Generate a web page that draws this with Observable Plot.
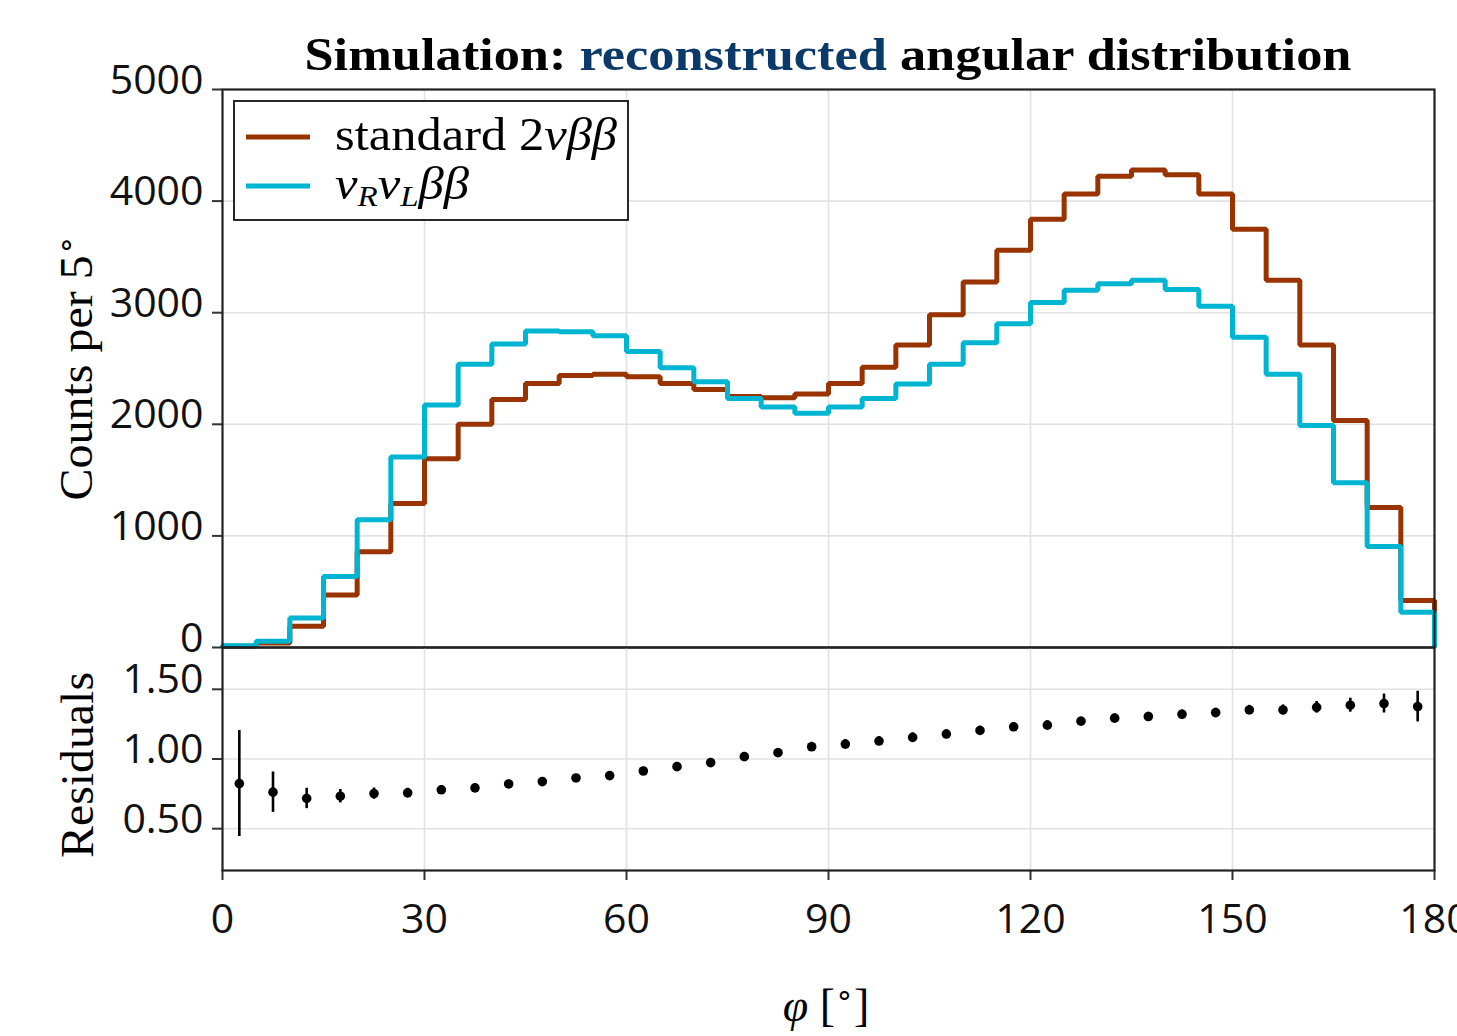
<!DOCTYPE html>
<html>
<head>
<meta charset="utf-8">
<script src="https://cdn.jsdelivr.net/npm/d3@7"></script>
<script src="https://cdn.jsdelivr.net/npm/@observablehq/plot@0.6"></script>
<style>
  html, body { margin: 0; padding: 0; background: #fff; overflow: hidden; }
  #wrap { position: relative; width: 1457px; height: 1036px; }
  #top, #bot { position: absolute; left: 0; }
  #top { top: 0; }
  #bot { top: 647px; }
  #overlay { position: absolute; left: 0; top: 0; pointer-events: none; }
</style>
</head>
<body>
<div id="wrap">
  <div id="top"></div>
  <div id="bot"></div>
  <svg id="overlay" width="1457" height="1036" xmlns="http://www.w3.org/2000/svg">
    <text x="828" y="70" text-anchor="middle" font-family="Liberation Serif" font-weight="bold" font-size="47" fill="#000" textLength="1047" lengthAdjust="spacingAndGlyphs">Simulation: <tspan fill="#0b3a6a">reconstructed</tspan> angular distribution</text>
    <text transform="translate(92,368) rotate(-90)" text-anchor="middle" font-family="Liberation Serif" font-size="46" fill="#000" textLength="265" lengthAdjust="spacingAndGlyphs">Counts per 5<tspan baseline-shift="super" font-size="30">∘</tspan></text>
    <text transform="translate(93,765) rotate(-90)" text-anchor="middle" font-family="Liberation Serif" font-size="46" fill="#000" textLength="186" lengthAdjust="spacingAndGlyphs">Residuals</text>
    <text x="826" y="1021" text-anchor="middle" font-family="Liberation Serif" font-size="46" fill="#000"><tspan font-style="italic">φ</tspan> [<tspan baseline-shift="super" font-size="30">∘</tspan>]</text>
    <g id="legend">
      <rect x="234" y="101" width="394" height="119" fill="#fff" stroke="#111" stroke-width="1.8"></rect>
      <line id="lg0" x1="246" x2="310" y1="137" y2="137" stroke-width="5"></line>
      <line id="lg1" x1="246" x2="310" y1="186" y2="186" stroke-width="5"></line>
      <text x="335" y="150" font-family="Liberation Serif" font-size="46" fill="#000" textLength="282" lengthAdjust="spacingAndGlyphs">standard 2<tspan font-style="italic">νββ</tspan></text>
      <text x="335" y="199" font-family="Liberation Serif" font-size="46" fill="#000" font-style="italic" textLength="134" lengthAdjust="spacingAndGlyphs">ν<tspan font-size="30" dy="7">R</tspan><tspan dy="-7">ν</tspan><tspan font-size="30" dy="7">L</tspan><tspan dy="-7">ββ</tspan></text>
    </g>
  </svg>
</div>
<script>
// ---- data ----
const seriesNames = ["standard 2νββ", "νRνLββ"];
const seriesColors = ["#993300", "#00b5d1"];
const phiLeft = [0, 5, 10, 15, 20, 25, 30, 35, 40, 45, 50, 55, 60, 65, 70, 75, 80, 85,
                 90, 95, 100, 105, 110, 115, 120, 125, 130, 135, 140, 145, 150, 155, 160, 165, 170, 175];
const standardCounts = [12, 40, 190, 470, 858, 1290, 1692, 2000, 2222, 2365, 2438, 2448,
                        2425, 2365, 2312, 2249, 2239, 2272, 2365, 2511, 2710, 2982, 3274, 3559,
                        3837, 4063, 4222, 4279, 4235, 4063, 3748, 3290, 2710, 2033, 1254, 421];
const rlCounts = [15, 55, 265, 637, 1144, 1708, 2172, 2537, 2720, 2836, 2829, 2793,
                  2653, 2507, 2381, 2232, 2156, 2100, 2156, 2232, 2361, 2537, 2730, 2902,
                  3091, 3201, 3260, 3290, 3207, 3058, 2779, 2448, 1990, 1476, 905, 315];
const phiCenter = [2.5, 7.5, 12.5, 17.5, 22.5, 27.5, 32.5, 37.5, 42.5, 47.5, 52.5, 57.5,
                   62.5, 67.5, 72.5, 77.5, 82.5, 87.5, 92.5, 97.5, 102.5, 107.5, 112.5, 117.5,
                   122.5, 127.5, 132.5, 137.5, 142.5, 147.5, 152.5, 157.5, 162.5, 167.5, 172.5, 177.5];
const residual = [0.824, 0.762, 0.717, 0.733, 0.752, 0.757, 0.779, 0.793, 0.821, 0.838, 0.864, 0.881,
                  0.914, 0.945, 0.974, 1.017, 1.045, 1.088, 1.107, 1.129, 1.155, 1.179, 1.205, 1.231,
                  1.243, 1.271, 1.293, 1.305, 1.321, 1.333, 1.352, 1.352, 1.371, 1.386, 1.398, 1.376];
const residualErr = [0.38, 0.145, 0.073, 0.048, 0.04, 0.033, 0.03, 0.028, 0.027, 0.026, 0.026, 0.026,
                     0.027, 0.028, 0.029, 0.03, 0.031, 0.032, 0.032, 0.032, 0.032, 0.031, 0.031, 0.031,
                     0.031, 0.03, 0.03, 0.03, 0.03, 0.031, 0.033, 0.036, 0.042, 0.05, 0.068, 0.11];
const xTicks = [0, 30, 60, 90, 120, 150, 180];
const yTicksTop = [0, 1000, 2000, 3000, 4000, 5000];
const yTicksRes = [0.5, 1.0, 1.5];

// ---- build tables ----
function stepPoints(vals, name) {
  const pts = [{phi: 0, v: 0, s: name}];
  phiLeft.forEach((p, i) => pts.push({phi: p, v: vals[i], s: name}));
  pts.push({phi: 180, v: vals[vals.length - 1], s: name});
  pts.push({phi: 180, v: 0, s: name});
  return pts;
}
const stdSteps = stepPoints(standardCounts, seriesNames[0]);
const rlSteps = stepPoints(rlCounts, seriesNames[1]);
const resData = phiCenter.map((p, i) => ({phi: p, r: residual[i], lo: residual[i] - residualErr[i], hi: residual[i] + residualErr[i]}));

document.getElementById("lg0").setAttribute("stroke", seriesColors[0]);
document.getElementById("lg1").setAttribute("stroke", seriesColors[1]);

const gridStyle = {stroke: "#e2e2e2", strokeOpacity: 1, strokeWidth: 1.6};
const tickFont = {fontSize: 41, fontFamily: "Open Sans", fill: "#111"};
const W = 1457, ML = 222, MR = 23;

const topPlot = Plot.plot({
  width: W, height: 648,
  marginLeft: ML, marginRight: MR, marginTop: 89, marginBottom: 1,
  style: {background: "transparent", overflow: "visible", fontFamily: "Open Sans", color: "#111"},
  x: {domain: [0, 180], label: null, axis: null},
  y: {domain: [0, 5000], label: null},
  marks: [
    Plot.gridX(xTicks.slice(1, -1), gridStyle),
    Plot.gridY(yTicksTop.slice(1, -1), gridStyle),
    Plot.line(stdSteps, {x: "phi", y: "v", stroke: seriesColors[0], strokeWidth: 5, curve: "step-after", strokeLinejoin: "miter", strokeLinecap: "butt"}),
    Plot.line(rlSteps, {x: "phi", y: "v", stroke: seriesColors[1], strokeWidth: 5, curve: "step-after", strokeLinejoin: "miter", strokeLinecap: "butt"}),
    Plot.axisY({ticks: yTicksTop, tickSize: 10, tickFormat: () => "", strokeWidth: 2, stroke: "#333", label: null}),
    Plot.axisY({ticks: yTicksTop, tickSize: 0, tickPadding: 19, dy: -9, tickFormat: d => String(d), ...tickFont, label: null}),
    Plot.frame({stroke: "#222", strokeWidth: 2.2})
  ]
});
document.getElementById("top").appendChild(topPlot);

const botPlot = Plot.plot({
  width: W, height: 389,
  marginLeft: ML, marginRight: MR, marginTop: 0, marginBottom: 166,
  style: {background: "transparent", overflow: "visible", fontFamily: "Open Sans", color: "#111"},
  x: {domain: [0, 180], label: null},
  y: {domain: [0.2, 1.8], label: null},
  marks: [
    Plot.gridX(xTicks.slice(1, -1), gridStyle),
    Plot.gridY(yTicksRes, gridStyle),
    Plot.ruleX(resData, {x: "phi", y1: "lo", y2: "hi", stroke: "#000", strokeWidth: 2.6}),
    Plot.dot(resData, {x: "phi", y: "r", r: 4.8, fill: "#000", stroke: "none"}),
    Plot.axisY({ticks: yTicksRes, tickSize: 10, tickFormat: () => "", strokeWidth: 2, stroke: "#333", label: null}),
    Plot.axisY({ticks: yTicksRes, tickSize: 0, tickPadding: 19, dy: -9, tickFormat: d3.format(".2f"), ...tickFont, label: null}),
    Plot.axisX({ticks: xTicks, tickSize: 10, tickPadding: 23, strokeWidth: 2, stroke: "#333", tickFormat: d => String(d), ...tickFont, label: null}),
    Plot.frame({stroke: "#222", strokeWidth: 2.2})
  ]
});
document.getElementById("bot").appendChild(botPlot);
</script>
</body>
</html>
